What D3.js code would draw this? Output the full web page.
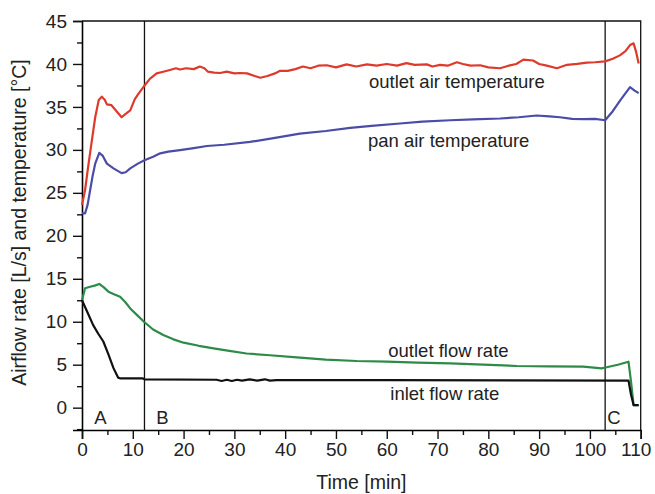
<!DOCTYPE html>
<html>
<head>
<meta charset="utf-8">
<script src="https://cdn.jsdelivr.net/npm/d3@7"></script>
<style>
  body { margin: 0; background: #fff; }
  text { font-family: "Liberation Sans", Arial, sans-serif; fill: #222; }
</style>
</head>
<body>
<div id="grafico"></div>
<script>
// time [min], value
const outletAirTemp = [
  [0, 23.6], [0.6, 25.3], [1.2, 28], [1.8, 30.5], [2.6, 33.8], [3.3, 35.8], [3.9, 36.2],
  [4.5, 35.8], [4.9, 35.3], [5.8, 35.2], [6.8, 34.5], [7.8, 33.8], [8.6, 34.2], [9.5, 34.6],
  [10.4, 35.9], [11.2, 36.6], [12.2, 37.4], [13.4, 38.3], [14.7, 38.9], [16, 39.1], [17.3, 39.3],
  [18.5, 39.5], [19.3, 39.35], [20.5, 39.5], [22, 39.4], [23.2, 39.7], [24.1, 39.5], [24.8, 39.1],
  [26, 39.0], [27.2, 38.95], [28.5, 39.1], [30, 38.9], [31.1, 38.95], [32.5, 38.9], [34, 38.6],
  [35.1, 38.4], [36.5, 38.6], [38, 38.9], [39, 39.2], [40.5, 39.2], [42, 39.4], [43.5, 39.7],
  [45, 39.5], [46.5, 39.8], [48.2, 39.85], [50, 39.6], [52.1, 39.95], [54, 39.7], [56.1, 39.95],
  [58, 39.8], [60, 40.0], [62, 39.8], [63.9, 40.1], [65.5, 39.9], [67.9, 39.95], [69, 39.7],
  [70.5, 39.9], [72, 39.8], [73.8, 40.2], [75, 40.0], [76.5, 39.8], [78.4, 39.85], [80, 39.6],
  [82.3, 39.5], [84, 39.8], [85.5, 40.0], [86.9, 40.5], [88.8, 40.4], [90, 40.0], [91.5, 39.8],
  [93.5, 39.5], [95.5, 39.9], [97.5, 40.0], [99.4, 40.15], [101, 40.2], [103, 40.3], [104.5, 40.6],
  [105.9, 41.0], [107, 41.5], [107.9, 42.2], [108.6, 42.4], [109.1, 41.4], [109.6, 40.05]
];

const panAirTemp = [
  [0, 22.6], [0.6, 22.6], [1.1, 23.6], [1.6, 25.3], [2.1, 27], [2.6, 28.4], [3.4, 29.65],
  [4.1, 29.3], [4.9, 28.4], [6.2, 27.85], [7.8, 27.3], [8.6, 27.4], [9.5, 27.85], [11, 28.4],
  [12.3, 28.8], [14, 29.2], [15.4, 29.6], [17, 29.8], [19.3, 29.97], [22, 30.2], [24.6, 30.45],
  [28, 30.6], [33.1, 30.93], [38, 31.4], [42.9, 31.9], [48, 32.2], [52.8, 32.56], [57, 32.8],
  [62.6, 33.07], [67, 33.3], [72.5, 33.45], [77, 33.55], [82.3, 33.65], [86, 33.8], [89.5, 34.0],
  [92, 33.9], [94.1, 33.8], [96.5, 33.6], [98.7, 33.57], [101, 33.6], [103, 33.45], [104.5, 34.5],
  [106, 35.8], [107.9, 37.3], [108.8, 36.9], [109.6, 36.6]
];

const outletFlow = [
  [0, 12.5], [0.6, 13.9], [1.6, 14.07], [2.5, 14.2], [3.4, 14.4], [4.3, 14.0], [5.2, 13.5],
  [6.3, 13.2], [7.5, 12.9], [8.5, 12.3], [9.5, 11.55], [10.8, 10.8], [12.2, 10.0], [14, 9.1],
  [16, 8.45], [18, 7.95], [20, 7.56], [23, 7.2], [25.9, 6.9], [29, 6.6], [32.4, 6.3], [37, 6.1],
  [42.3, 5.86], [48, 5.6], [54.1, 5.43], [60, 5.35], [66, 5.25], [72.5, 5.16], [79, 5.0],
  [85.6, 4.85], [92, 4.8], [98.7, 4.77], [102.3, 4.58], [103.3, 4.7], [105.5, 5.0], [107.6, 5.35],
  [108.1, 3.0], [108.6, 0.3], [109.6, 0.3]
];

const inletFlow = [
  [0, 12.5], [1, 11.2], [2.2, 9.6], [3.2, 8.6], [4.2, 7.7], [5.2, 6.2], [6.2, 4.6], [7.1, 3.5],
  [7.6, 3.4], [12, 3.4], [12.3, 3.3], [26.5, 3.25], [27.5, 3.1], [28.5, 3.25], [29.5, 3.1],
  [30.5, 3.25], [31.5, 3.15], [33, 3.3], [34.5, 3.15], [36, 3.3], [37, 3.15], [38.3, 3.2],
  [60, 3.2], [107.6, 3.14], [108.1, 1.5], [108.6, 0.3], [109.6, 0.3]
];

const phaseLines = [12.3, 103];
const phaseLabels = [["A", 2.4], ["B", 14.6], ["C", 103.4]];
const curveLabels = [
  ["outlet air temperature", 56.5, 37.25],
  ["pan air temperature", 56.3, 30.35],
  ["outlet flow rate", 60.3, 5.86],
  ["inlet flow rate", 60.7, 0.9]
];
const xTicks = d3.range(0, 111, 10);
const yTicks = d3.range(0, 46, 5);

const margin = { top: 21, right: 14.3, bottom: 64, left: 82 };
const width = 655 - margin.left - margin.right;
const height = 494 - margin.top - margin.bottom;

const svg = d3.select("#grafico")
  .append("svg")
  .attr("width", 655)
  .attr("height", 494)
  .append("g")
  .attr("transform", `translate(${margin.left},${margin.top})`);

const x = d3.scaleLinear().domain([0, 110]).range([0, width]);
const y = d3.scaleLinear().domain([-2.6, 45]).range([height, 0]);

// minor ticks
svg.append("g")
  .attr("transform", `translate(0,${height})`)
  .call(d3.axisBottom(x).tickValues(d3.range(5, 110, 10)).tickSize(5).tickFormat(""))
  .call((g) => g.select(".domain").remove());
svg.append("g")
  .call(d3.axisLeft(y).tickValues(d3.range(-2.5, 45, 5)).tickSize(5).tickFormat(""))
  .call((g) => g.select(".domain").remove());

const xAxis = svg.append("g")
  .attr("transform", `translate(0,${height})`)
  .call(d3.axisBottom(x).tickValues(xTicks).tickSize(9).tickPadding(4));
const yAxis = svg.append("g")
  .call(d3.axisLeft(y).tickValues(yTicks).tickSize(9).tickPadding(6));

[xAxis, yAxis].forEach((g) => {
  g.selectAll("text").style("font-size", "19px").attr("fill", "#222");
  g.select(".domain").attr("stroke-width", 1.6);
});
// last label sits a bit left of its tick, as in the original
xAxis.selectAll(".tick text").filter((d) => d === 110).attr("dx", -5);
svg.selectAll(".tick line").attr("stroke-width", 1.4).attr("stroke", "#111");

// frame
svg.append("path")
  .attr("d", `M0,0H${width}V${height}`)
  .attr("fill", "none")
  .attr("stroke", "#111")
  .attr("stroke-width", 1.3);

svg.selectAll(".phase")
  .data(phaseLines)
  .enter()
  .append("line")
  .attr("x1", (d) => x(d))
  .attr("x2", (d) => x(d))
  .attr("y1", 0)
  .attr("y2", height)
  .attr("stroke", "#111")
  .attr("stroke-width", 1.3);

const line = d3.line()
  .x((d) => x(d[0]))
  .y((d) => y(d[1]));

const series = [
  [outletAirTemp, "#dd3a2c"],
  [panAirTemp, "#4a4ca6"],
  [outletFlow, "#2e8a47"],
  [inletFlow, "#111"]
];

series.forEach(([data, color]) => {
  svg.append("path")
    .datum(data)
    .attr("fill", "none")
    .attr("stroke", color)
    .attr("stroke-width", 2.2)
    .attr("stroke-linejoin", "round")
    .attr("d", line);
});

svg.selectAll(".curve-label")
  .data(curveLabels)
  .enter()
  .append("text")
  .attr("x", (d) => x(d[1]))
  .attr("y", (d) => y(d[2]))
  .style("font-size", "18.5px")
  .text((d) => d[0]);

svg.selectAll(".phase-label")
  .data(phaseLabels)
  .enter()
  .append("text")
  .attr("x", (d) => x(d[1]))
  .attr("y", y(-1.95))
  .style("font-size", "18.5px")
  .text((d) => d[0]);

svg.append("text")
  .attr("x", width / 2)
  .attr("y", height + 59)
  .attr("text-anchor", "middle")
  .style("font-size", "19.5px")
  .text("Time [min]");

svg.append("text")
  .attr("transform", `translate(-56,${height / 2 - 3}) rotate(-90)`)
  .attr("text-anchor", "middle")
  .style("font-size", "19.5px")
  .text("Airflow rate [L/s] and temperature [°C]");
</script>
</body>
</html>
